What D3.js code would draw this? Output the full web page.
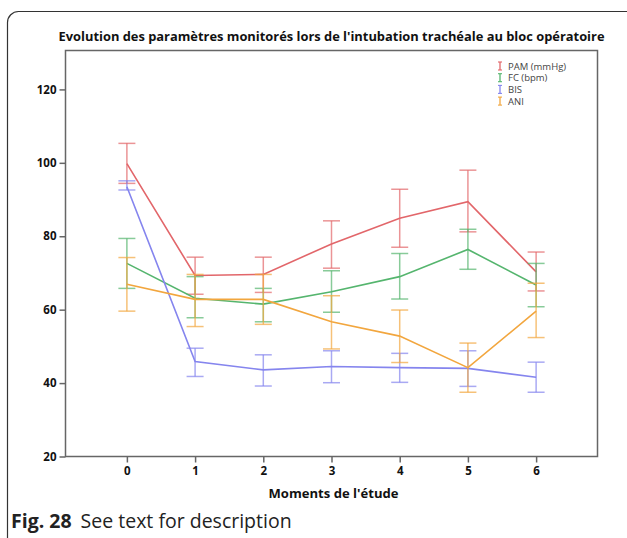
<!DOCTYPE html>
<html>
<head>
<meta charset="utf-8">
<script src="https://cdn.jsdelivr.net/npm/d3@7"></script>
<style>
  html, body { margin: 0; padding: 0; background: #fff; }
  svg { display: block; }
</style>
</head>
<body>
<svg id="chart" width="627" height="538"></svg>
<script>
// Study moments (x axis)
const moments = [0, 1, 2, 3, 4, 5, 6];

// Series names as shown in the legend
const seriesNames = ["PAM (mmHg)", "FC (bpm)", "BIS", "ANI"];

// Means per moment
const pamMean = [99.8, 69.3, 69.6, 77.9, 84.9, 89.4, 70.3];
const fcMean  = [72.6, 63.1, 61.5, 64.9, 69.0, 76.4, 66.7];
const bisMean = [93.5, 45.9, 43.6, 44.5, 44.2, 44.0, 41.6];
const aniMean = [66.9, 62.8, 62.8, 56.7, 52.8, 44.2, 59.6];

// Lower / upper error-bar limits per moment
const pamLow  = [94.4, 64.2, 64.7, 71.3, 77.0, 81.2, 65.1];
const pamHigh = [105.3, 74.3, 74.3, 84.2, 92.8, 98.0, 75.7];
const fcLow   = [65.8, 57.8, 56.7, 59.3, 62.9, 71.0, 60.8];
const fcHigh  = [79.4, 69.0, 65.8, 70.6, 75.3, 81.9, 72.6];
const bisLow  = [92.6, 41.8, 39.2, 40.1, 40.2, 39.1, 37.5];
const bisHigh = [95.1, 49.5, 47.7, 48.8, 48.1, 48.8, 45.7];
const aniLow  = [59.6, 55.4, 56.0, 49.3, 45.6, 37.5, 52.4];
const aniHigh = [74.2, 69.6, 69.6, 63.8, 59.9, 50.9, 67.2];

// Y axis tick values
const yTicks = [20, 40, 60, 80, 100, 120];

const lineColors = ["#e2666a", "#55b56e", "#8585ee", "#f2a63e"];

const series = [
  { name: seriesNames[0], mean: pamMean, low: pamLow, high: pamHigh, color: lineColors[0] },
  { name: seriesNames[1], mean: fcMean,  low: fcLow,  high: fcHigh,  color: lineColors[1] },
  { name: seriesNames[2], mean: bisMean, low: bisLow, high: bisHigh, color: lineColors[2] },
  { name: seriesNames[3], mean: aniMean, low: aniLow, high: aniHigh, color: lineColors[3] }
];

const svg = d3.select("#chart");
const font = "'Open Sans', 'DejaVu Sans', sans-serif";

// Figure panel border (rounded, runs past the right edge)
svg.append("rect")
  .attr("x", 7.5).attr("y", 11.5)
  .attr("width", 640).attr("height", 540)
  .attr("rx", 11).attr("ry", 11)
  .attr("fill", "none")
  .attr("stroke", "#333").attr("stroke-width", 1.2);

const plot = { left: 65.5, right: 597.5, top: 50.5, bottom: 456.5 };

const x = d3.scaleLinear().domain([-0.9, 6.9]).range([plot.left, plot.right]);
const y = d3.scaleLinear().domain([20, 130.6]).range([plot.bottom, plot.top]);

// Title
svg.append("text")
  .attr("x", (plot.left + plot.right) / 2).attr("y", 41)
  .attr("text-anchor", "middle")
  .attr("font-family", font).attr("font-weight", "bold")
  .attr("font-size", 12.5).attr("fill", "#111")
  .attr("textLength", 546).attr("lengthAdjust", "spacingAndGlyphs")
  .text("Evolution des paramètres monitorés lors de l'intubation trachéale au bloc opératoire");

// Plot frame
svg.append("rect")
  .attr("x", plot.left).attr("y", plot.top)
  .attr("width", plot.right - plot.left).attr("height", plot.bottom - plot.top)
  .attr("fill", "none").attr("stroke", "#666").attr("stroke-width", 1.5);

// Y axis
const yAxis = svg.append("g")
  .attr("transform", `translate(${plot.left},0)`)
  .call(d3.axisLeft(y).tickValues(yTicks).tickSize(6).tickPadding(3).tickFormat(d3.format("d")));
yAxis.select(".domain").remove();
yAxis.selectAll("line").attr("stroke", "#666").attr("stroke-width", 1.5);
yAxis.selectAll("text")
  .attr("font-family", font).attr("font-weight", "bold")
  .attr("font-size", 11.5).attr("fill", "#111");

// X axis
const xAxis = svg.append("g")
  .attr("transform", `translate(0,${plot.bottom})`)
  .call(d3.axisBottom(x).tickValues(moments).tickSize(6).tickPadding(4).tickFormat(d3.format("d")));
xAxis.select(".domain").remove();
xAxis.selectAll("line").attr("stroke", "#666").attr("stroke-width", 1.5);
xAxis.selectAll("text")
  .attr("font-family", font).attr("font-weight", "bold")
  .attr("font-size", 11.5).attr("fill", "#111");

// X axis title
svg.append("text")
  .attr("x", (plot.left + plot.right) / 2 + 2).attr("y", 498)
  .attr("text-anchor", "middle")
  .attr("font-family", font).attr("font-weight", "bold")
  .attr("font-size", 12.5).attr("fill", "#111")
  .attr("textLength", 130).attr("lengthAdjust", "spacingAndGlyphs")
  .text("Moments de l'étude");

// Error bars and mean lines
const capHalf = 8.5;
const line = d3.line().x((d, i) => x(moments[i])).y(d => y(d));

series.forEach(s => {
  const g = svg.append("g");
  const bars = g.append("g").attr("stroke", s.color).attr("stroke-opacity", 0.7).attr("stroke-width", 1.5);
  moments.forEach((m, i) => {
    const cx = x(m);
    bars.append("line").attr("x1", cx).attr("x2", cx).attr("y1", y(s.low[i])).attr("y2", y(s.high[i]));
    bars.append("line").attr("x1", cx - capHalf).attr("x2", cx + capHalf).attr("y1", y(s.high[i])).attr("y2", y(s.high[i]));
    bars.append("line").attr("x1", cx - capHalf).attr("x2", cx + capHalf).attr("y1", y(s.low[i])).attr("y2", y(s.low[i]));
  });
  g.append("path")
    .datum(s.mean)
    .attr("d", line)
    .attr("fill", "none")
    .attr("stroke", s.color).attr("stroke-width", 1.6);
});

// Legend
const legend = svg.append("g").attr("transform", "translate(498,66)");
series.forEach((s, i) => {
  const row = legend.append("g").attr("transform", `translate(0,${i * 11.7})`);
  row.append("line").attr("x1", 2).attr("x2", 2).attr("y1", -4).attr("y2", 4).attr("stroke", s.color).attr("stroke-width", 1.3);
  row.append("line").attr("x1", 0).attr("x2", 4).attr("y1", -4).attr("y2", -4).attr("stroke", s.color).attr("stroke-width", 1.1);
  row.append("line").attr("x1", 0).attr("x2", 4).attr("y1", 4).attr("y2", 4).attr("stroke", s.color).attr("stroke-width", 1.1);
  row.append("text")
    .attr("x", 10).attr("y", 3.5)
    .attr("font-family", font).attr("font-size", 9.5).attr("fill", "#444")
    .text(s.name);
});

// Caption
const cap = svg.append("text")
  .attr("x", 11).attr("y", 528)
  .attr("font-family", font).attr("font-size", 19.5).attr("fill", "#222");
cap.append("tspan").attr("font-weight", "bold").text("Fig. 28");
cap.append("tspan").attr("dx", 9).text("See text for description");
</script>
</body>
</html>
